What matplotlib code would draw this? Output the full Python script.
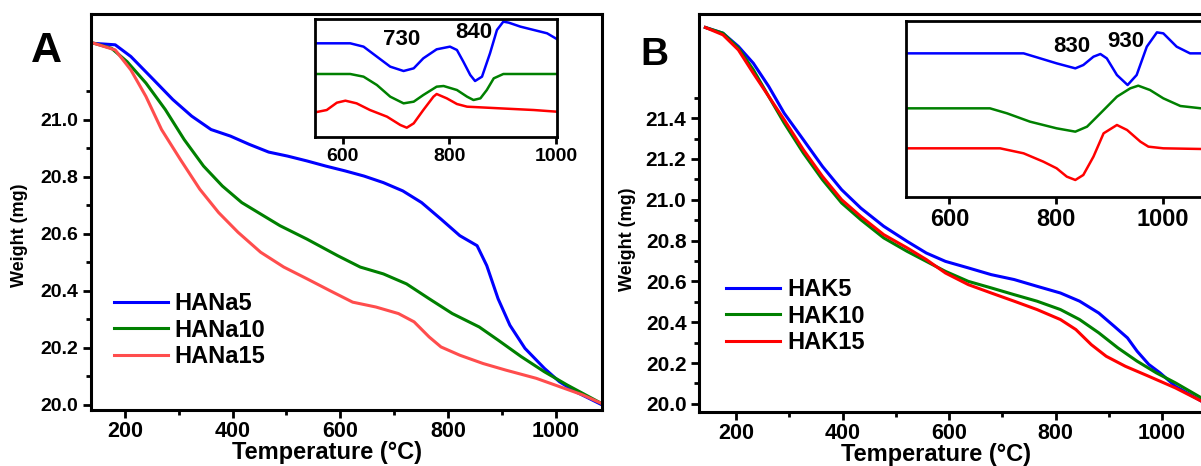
import numpy as np
import matplotlib.pyplot as plt
from matplotlib.ticker import MultipleLocator, FixedLocator

plt.rcParams['font.family'] = ['Liberation Sans', 'DejaVu Sans']
plt.rcParams['font.weight'] = 'bold'
plt.rcParams['lines.solid_joinstyle'] = 'round'

# ---- panel A: TGA of HANa samples ----
a_labels = ['HANa5', 'HANa10', 'HANa15']
a_colors = ['#0000ff', '#008000', '#ff4d4d']

hana5_t = [143, 182, 211, 253, 289, 324, 360, 396, 431, 467, 502, 538, 573, 609, 644,
           680, 716, 751, 787, 822, 854, 872, 893, 915, 943, 979, 1007, 1036, 1084]
hana5_w = [21.267, 21.262, 21.221, 21.140, 21.070, 21.012, 20.965, 20.942, 20.913, 20.886,
           20.872, 20.855, 20.837, 20.820, 20.802, 20.779, 20.750, 20.709, 20.651, 20.593,
           20.558, 20.488, 20.372, 20.279, 20.198, 20.128, 20.081, 20.047, 20.002]

hana10_t = [143, 175, 204, 239, 275, 310, 346, 381, 417, 452, 488, 538, 595, 637, 680,
            723, 765, 808, 858, 893, 936, 979, 1021, 1084]
hana10_w = [21.267, 21.250, 21.203, 21.128, 21.035, 20.930, 20.837, 20.767, 20.709, 20.669,
            20.628, 20.581, 20.523, 20.483, 20.459, 20.424, 20.372, 20.320, 20.273, 20.227,
            20.169, 20.116, 20.070, 20.006]

hana15_t = [143, 182, 211, 239, 268, 303, 339, 374, 410, 452, 495, 538, 580, 623, 666,
            708, 737, 765, 787, 822, 865, 907, 964, 1007, 1050, 1084]
hana15_w = [21.267, 21.244, 21.174, 21.081, 20.965, 20.860, 20.756, 20.674, 20.605, 20.535,
            20.483, 20.442, 20.401, 20.360, 20.343, 20.320, 20.291, 20.238, 20.203, 20.174,
            20.145, 20.122, 20.093, 20.064, 20.035, 20.006]

# inset A (derivative-like signal, arbitrary units)
ia_blue_t = [548, 614, 639, 664, 689, 714, 733, 751, 776, 801, 814, 826, 839, 848, 861,
             876, 889, 901, 911, 933, 958, 983, 1001]
ia_blue_s = [2.80, 2.80, 2.70, 2.40, 2.10, 1.97, 2.05, 2.35, 2.62, 2.70, 2.60, 2.25, 1.85,
             1.67, 1.80, 2.50, 3.20, 3.45, 3.42, 3.30, 3.20, 3.10, 2.93]
ia_green_t = [548, 614, 639, 664, 689, 714, 733, 751, 776, 789, 814, 833, 845, 858, 870,
              883, 901, 958, 1001]
ia_green_s = [1.88, 1.88, 1.80, 1.55, 1.20, 1.00, 1.05, 1.25, 1.50, 1.52, 1.40, 1.20, 1.10,
              1.15, 1.40, 1.75, 1.88, 1.88, 1.88]
ia_red_t = [548, 570, 589, 605, 626, 651, 683, 708, 720, 733, 751, 770, 776, 795, 814,
            833, 895, 958, 1001]
ia_red_s = [0.73, 0.80, 1.02, 1.08, 1.00, 0.80, 0.60, 0.35, 0.27, 0.40, 0.80, 1.20, 1.28,
            1.15, 0.98, 0.90, 0.85, 0.80, 0.75]

# ---- panel B: TGA of HAK samples ----
b_labels = ['HAK5', 'HAK10', 'HAK15']
b_colors = ['#0000ff', '#008000', '#ff0000']

hak5_t = [142, 175, 204, 232, 261, 290, 326, 362, 398, 434, 477, 521, 557, 593, 636, 679,
          722, 765, 809, 845, 881, 910, 935, 953, 975, 996, 1025, 1074]
hak5_w = [21.844, 21.816, 21.751, 21.669, 21.555, 21.424, 21.294, 21.163, 21.049, 20.959,
          20.870, 20.796, 20.739, 20.698, 20.666, 20.633, 20.609, 20.576, 20.543, 20.503,
          20.445, 20.380, 20.323, 20.258, 20.193, 20.152, 20.086, 20.013]

hak10_t = [142, 175, 204, 232, 261, 290, 326, 362, 398, 434, 477, 521, 557, 593, 636, 679,
           722, 765, 809, 845, 881, 917, 953, 989, 1025, 1074]
hak10_w = [21.844, 21.816, 21.743, 21.637, 21.506, 21.376, 21.229, 21.098, 20.984, 20.902,
           20.813, 20.747, 20.698, 20.649, 20.600, 20.568, 20.535, 20.503, 20.462, 20.413,
           20.348, 20.274, 20.209, 20.152, 20.103, 20.029]

hak15_t = [142, 175, 204, 232, 261, 290, 326, 362, 398, 434, 477, 521, 557, 593, 636, 679,
           722, 765, 809, 838, 867, 895, 931, 975, 1025, 1074]
hak15_w = [21.844, 21.808, 21.734, 21.620, 21.506, 21.392, 21.245, 21.114, 21.000, 20.918,
           20.829, 20.764, 20.707, 20.641, 20.584, 20.543, 20.503, 20.462, 20.413, 20.364,
           20.290, 20.233, 20.184, 20.135, 20.078, 20.013]

# inset B
ib_blue_t = [518, 739, 764, 801, 836, 851, 870, 883, 895, 914, 934, 951, 970, 989, 1001,
             1026, 1051, 1072]
ib_blue_s = [4.32, 4.32, 4.20, 4.02, 3.87, 3.97, 4.22, 4.30, 4.17, 3.67, 3.37, 3.67, 4.52,
             4.95, 4.92, 4.52, 4.32, 4.32]
ib_green_t = [518, 676, 708, 751, 801, 836, 858, 883, 914, 939, 954, 976, 1001, 1033, 1072]
ib_green_s = [2.67, 2.67, 2.52, 2.27, 2.07, 1.97, 2.12, 2.52, 3.02, 3.27, 3.35, 3.22, 2.97,
              2.74, 2.67]
ib_red_t = [518, 695, 739, 776, 801, 820, 836, 851, 870, 889, 914, 933, 958, 973, 1001, 1072]
ib_red_s = [1.47, 1.47, 1.32, 1.07, 0.87, 0.62, 0.52, 0.67, 1.22, 1.92, 2.17, 2.02, 1.67,
            1.52, 1.47, 1.45]

W, H = 1201, 466
fig = plt.figure(figsize=(W / 100, H / 100), dpi=100)


def box(l, t, r, b):
    return [l / W, 1 - b / H, (r - l) / W, (b - t) / H]


def style_main(ax, ymajor, yminor):
    for s in ax.spines.values():
        s.set_linewidth(2.2)
    ax.xaxis.set_major_locator(FixedLocator([200, 400, 600, 800, 1000]))
    ax.xaxis.set_minor_locator(FixedLocator([300, 500, 700, 900]))
    ax.yaxis.set_major_locator(FixedLocator(ymajor))
    ax.yaxis.set_minor_locator(FixedLocator(yminor))
    ax.tick_params(which='major', direction='out', length=6, width=2, labelsize=15.5)
    ax.tick_params(which='minor', direction='out', length=3.5, width=2)
    ax.tick_params(axis='y', which='major', labelsize=14, pad=3)
    ax.tick_params(axis='x', which='major', pad=2)
    ax.set_xlabel('Temperature (°C)', fontsize=17, fontweight='bold')


def style_inset(ax, fs):
    for s in ax.spines.values():
        s.set_linewidth(2)
    ax.set_yticks([])
    ax.xaxis.set_major_locator(FixedLocator([600, 800, 1000]))
    ax.tick_params(axis='x', direction='out', length=5, width=2, labelsize=fs, pad=3)


# panel A
axA = fig.add_axes(box(91, 14, 602, 410))
for t, w, c, lab in zip([hana5_t, hana10_t, hana15_t], [hana5_w, hana10_w, hana15_w],
                        a_colors, a_labels):
    axA.plot(t, w, color=c, lw=2.2, label=lab)
axA.set_xlim(137, 1086)
axA.set_ylim(19.982, 21.37)
style_main(axA, [20.0, 20.2, 20.4, 20.6, 20.8, 21.0],
           [20.1, 20.3, 20.5, 20.7, 20.9, 21.1])
axA.xaxis.set_label_coords(0.461, -0.079)
axA.legend(loc='center left', bbox_to_anchor=(0.045, 0.202), frameon=False,
           fontsize=17, handlelength=2.3, handletextpad=0.25, labelspacing=0.15,
           borderpad=0, borderaxespad=0)

insA = fig.add_axes(box(315, 19.3, 556.7, 136.7))
for t, s, c in zip([ia_blue_t, ia_green_t, ia_red_t], [ia_blue_s, ia_green_s, ia_red_s],
                   ['#0000ff', '#008000', '#ff0000']):
    insA.plot(t, s, color=c, lw=1.8)
insA.set_xlim(548, 1001)
insA.set_ylim(0, 3.52)
style_inset(insA, 14)
insA.text(710, 2.90, '730', fontsize=16, ha='center', va='center')
insA.text(846, 3.11, '840', fontsize=16, ha='center', va='center')

# panel B
axB = fig.add_axes(box(699, 14, 1210, 412))
for t, w, c, lab in zip([hak5_t, hak10_t, hak15_t], [hak5_w, hak10_w, hak15_w],
                        b_colors, b_labels):
    axB.plot(t, w, color=c, lw=2.2, label=lab)
axB.set_xlim(130, 1090)
axB.set_ylim(19.96, 21.91)
style_main(axB, [20.0, 20.2, 20.4, 20.6, 20.8, 21.0, 21.2, 21.4],
           [20.1, 20.3, 20.5, 20.7, 20.9, 21.1, 21.3, 21.5])
axB.tick_params(axis='y', which='major', labelsize=15)
axB.xaxis.set_label_coords(0.463, -0.078)
axB.legend(loc='center left', bbox_to_anchor=(0.053, 0.241), frameon=False,
           fontsize=17, handlelength=2.3, handletextpad=0.3, labelspacing=0.15,
           borderpad=0, borderaxespad=0)

insB = fig.add_axes(box(905.7, 20.7, 1210.8, 197.3))
for t, s, c in zip([ib_blue_t, ib_green_t, ib_red_t], [ib_blue_s, ib_green_s, ib_red_s],
                   ['#0000ff', '#008000', '#ff0000']):
    insB.plot(t, s, color=c, lw=1.8)
insB.set_xlim(518, 1090)
insB.set_ylim(0, 5.30)
style_inset(insB, 17)
insB.text(830, 4.54, '830', fontsize=16, ha='center', va='center')
insB.text(930, 4.69, '930', fontsize=16, ha='center', va='center')

# y labels and panel letters
fig.text(20 / W, 1 - 235 / H, 'Weight (mg)', rotation=90, ha='center', va='center',
         fontsize=13)
fig.text(628 / W, 1 - 239 / H, 'Weight (mg)', rotation=90, ha='center', va='center',
         fontsize=13)
fig.text(31 / W, 1 - 62 / H, 'A', fontsize=31, ha='left', va='baseline')
fig.text(640 / W, 1 - 65 / H, 'B', fontsize=28, ha='left', va='baseline')

fig.savefig('out.png', dpi=100)
